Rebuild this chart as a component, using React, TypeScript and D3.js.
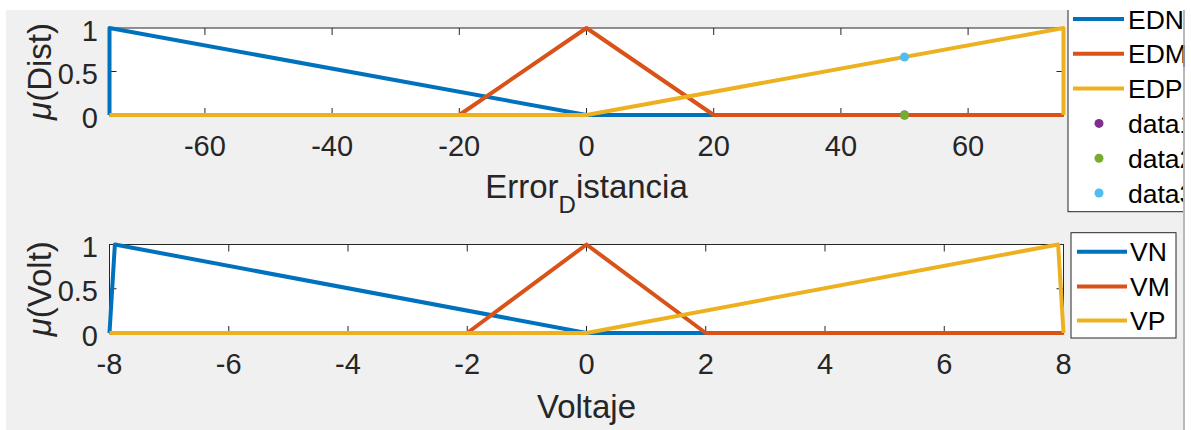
import React from "react";
import * as d3 from "d3";

const distTicks = [-60, -40, -20, 0, 20, 40, 60];
const voltTicks = [-8, -6, -4, -2, 0, 2, 4, 6, 8];
const yTicks = [0, 0.5, 1];

const ednX = [-75, -75, 0, 75];
const ednY = [0, 1, 0, 0];
const edmX = [-75, -20, 0, 20, 75];
const edmY = [0, 0, 1, 0, 0];
const edpX = [-75, 0, 75, 75];
const edpY = [0, 0, 1, 0];
const dataX = [50, 50, 50];
const dataY = [0, 0, 0.667];

const vnX = [-8, -7.91, 0, 8];
const vnY = [0, 1, 0, 0];
const vmX = [-8, -2, 0, 2, 8];
const vmY = [0, 0, 1, 0, 0];
const vpX = [-8, 0, 7.91, 8];
const vpY = [0, 0, 1, 0];

const topLegend = ["EDN", "EDM", "EDP", "data1", "data2", "data3"];
const botLegend = ["VN", "VM", "VP"];

const C = ["#0072BD", "#D95319", "#EDB120", "#7E2F8E", "#77AC30", "#4DBEEE"];
const FONT = "'Liberation Sans', Arial, Helvetica, sans-serif";
const TXT = "#262626";

type Series = { xs: number[]; ys: number[]; color: string };

function Axes(props: {
  x0: number; x1: number; y0: number; y1: number;
  domain: [number, number]; xticks: number[];
  series: Series[]; dots?: { x: number; y: number; color: string }[];
  ylabel: string; xlabel: React.ReactNode; xlabelOff: number;
}) {
  const { x0, x1, y0, y1, domain, xticks, series, dots, ylabel, xlabel, xlabelOff } = props;
  const x = d3.scaleLinear().domain(domain).range([x0, x1]);
  const y = d3.scaleLinear().domain([0, 1]).range([y1, y0]);
  const line = d3.line<[number, number]>().x((d) => x(d[0])).y((d) => y(d[1]));
  const tl = 7;
  return (
    <g>
      <rect x={x0} y={y0} width={x1 - x0} height={y1 - y0} fill="#fff" />
      {xticks.map((t) => (
        <g key={"xt" + t}>
          <line x1={x(t)} x2={x(t)} y1={y1} y2={y1 - tl} stroke={TXT} strokeWidth={1} />
          <line x1={x(t)} x2={x(t)} y1={y0} y2={y0 + tl} stroke={TXT} strokeWidth={1} />
          <text x={x(t)} y={y1 + 41} textAnchor="middle" fontSize={29} fill={TXT} fontFamily={FONT}>
            {t < 0 ? "-" + Math.abs(t) : String(t)}
          </text>
        </g>
      ))}
      {yTicks.map((t) => (
        <g key={"yt" + t}>
          <line x1={x0} x2={x0 + tl} y1={y(t)} y2={y(t)} stroke={TXT} strokeWidth={1} />
          <line x1={x1} x2={x1 - tl} y1={y(t)} y2={y(t)} stroke={TXT} strokeWidth={1} />
          <text x={98} y={y(t) + 2.5} textAnchor="end" dominantBaseline="central" fontSize={29} fill={TXT} fontFamily={FONT}>
            {String(t)}
          </text>
        </g>
      ))}
      <rect x={x0} y={y0} width={x1 - x0} height={y1 - y0} fill="none" stroke={TXT} strokeWidth={1} />
      {series.map((s, i) => (
        <path key={"s" + i} d={line(s.xs.map((v, j) => [v, s.ys[j]] as [number, number])) || ""}
          fill="none" stroke={s.color} strokeWidth={4} strokeLinejoin="round" />
      ))}
      {dots && dots.map((d, i) => (
        <circle key={"d" + i} cx={x(d.x)} cy={y(d.y)} r={4.5} fill={d.color} />
      ))}
      <text transform={`translate(51,${(y0 + y1) / 2}) rotate(-90)`} textAnchor="middle" fontSize={33} fill={TXT} fontFamily={FONT}>
        <tspan fontStyle="italic">μ</tspan>{ylabel}
      </text>
      <text x={(x0 + x1) / 2} y={y1 + xlabelOff} textAnchor="middle" fontSize={33} fill={TXT} fontFamily={FONT}>
        {xlabel}
      </text>
    </g>
  );
}

export default function App() {
  const topSeries: Series[] = [
    { xs: ednX, ys: ednY, color: C[0] },
    { xs: edmX, ys: edmY, color: C[1] },
    { xs: edpX, ys: edpY, color: C[2] },
  ];
  const botSeries: Series[] = [
    { xs: vnX, ys: vnY, color: C[0] },
    { xs: vmX, ys: vmY, color: C[1] },
    { xs: vpX, ys: vpY, color: C[2] },
  ];
  const dots = dataX.map((v, i) => ({ x: v, y: dataY[i], color: C[3 + i] }));
  const topRowY = d3.range(topLegend.length).map((i) => 19 + i * 34.8);
  const botRowY = [251.7, 286.5, 320.5];
  return (
    <svg width={1191} height={430} style={{ position: "absolute", left: 0, top: 0 }} xmlns="http://www.w3.org/2000/svg">
      <defs>
        <clipPath id="fig">
          <rect x={6} y={10} width={1177} height={420} />
        </clipPath>
      </defs>
      <rect x={0} y={0} width={1191} height={430} fill="#fff" />
      <rect x={6} y={10} width={1177} height={420} fill="#f0f0f0" />
      <rect x={1183} y={10} width={2} height={420} fill="#b9b9b9" />
      <rect x={1183} y={45} width={2} height={22} fill="#8090a8" />
      <g clipPath="url(#fig)">
        <Axes x0={109.5} x1={1063.5} y0={28} y1={115} domain={[-75, 75]} xticks={distTicks}
          series={topSeries} dots={dots} ylabel="(Dist)" xlabelOff={83}
          xlabel={<>Error<tspan fontSize={24} dy={15}>D</tspan><tspan dy={-15}>istancia</tspan></>} />
        <Axes x0={109.5} x1={1063.5} y0={244.5} y1={333} domain={[-8, 8]} xticks={voltTicks}
          series={botSeries} ylabel="(Volt)" xlabel="Voltaje" xlabelOff={85} />
        {/* top legend */}
        <rect x={1068} y={-5} width={160} height={216.7} fill="#fff" stroke={TXT} strokeWidth={1} />
        {topLegend.map((name, i) => (
          <g key={name}>
            {i < 3 ? (
              <line x1={1073} x2={1124} y1={topRowY[i]} y2={topRowY[i]} stroke={C[i]} strokeWidth={4} />
            ) : (
              <circle cx={1099} cy={topRowY[i]} r={4.5} fill={C[i]} />
            )}
            <text x={1128} y={topRowY[i] + 9.5} fontSize={26.5} fill="#000" fontFamily={FONT}>{name}</text>
          </g>
        ))}
        {/* bottom legend */}
        <rect x={1071} y={232.7} width={105} height={105.3} fill="#fff" stroke={TXT} strokeWidth={1} />
        {botLegend.map((name, i) => (
          <g key={name}>
            <line x1={1077} x2={1127} y1={botRowY[i]} y2={botRowY[i]} stroke={C[i]} strokeWidth={4} />
            <text x={1130} y={botRowY[i] + 9.5} fontSize={26.5} fill="#000" fontFamily={FONT}>{name}</text>
          </g>
        ))}
      </g>
    </svg>
  );
}
